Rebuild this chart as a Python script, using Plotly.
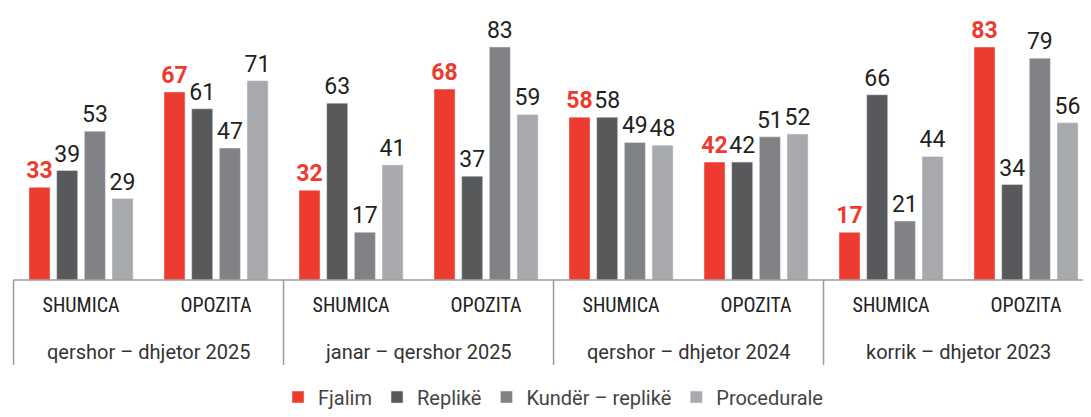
import plotly.graph_objects as go

periods = ["qershor – dhjetor 2025", "janar – qershor 2025", "qershor – dhjetor 2024", "korrik – dhjetor 2023"]
groups = ["SHUMICA", "OPOZITA"]

series_names = ["Fjalim", "Replikë", "Kundër – replikë", "Procedurale"]
fjalim = [33, 67, 32, 68, 58, 42, 17, 83]
replike = [39, 61, 63, 37, 58, 42, 66, 34]
kunder = [53, 47, 17, 83, 49, 51, 21, 79]
procedurale = [29, 71, 41, 59, 48, 52, 44, 56]

colors = ["#EE3B2F", "#58595B", "#808285", "#A7A9AC"]

# unique category keys, shown as SHUMICA / OPOZITA
cats = [p + " | " + g for p in periods for g in groups]
sub_labels = groups * len(periods)

narrow = "Roboto Condensed, Liberation Sans Narrow, Roboto"

fig = go.Figure()
for name, vals, col in zip(series_names, [fjalim, replike, kunder, procedurale], colors):
    red = name == "Fjalim"
    fig.add_trace(go.Bar(
        x=cats, y=vals, name=name,
        marker_color=col,
        text=vals, textposition="outside", cliponaxis=False, constraintext="none",
        textfont=dict(size=23, color="#EE3B2F" if red else "#231F20",
                      family="Roboto", weight="bold" if red else "normal"),
    ))

line_col = "#9B9B9B"
# axis baseline + section dividers
fig.add_shape(type="line", xref="x", yref="paper", x0=-0.5, x1=7.6, y0=0, y1=0,
              line=dict(color=line_col, width=1.5))
for i in range(len(periods)):
    fig.add_shape(type="line", xref="x", yref="paper", x0=2 * i - 0.5, x1=2 * i - 0.5,
                  y0=0, y1=-0.3125, line=dict(color=line_col, width=1.5))
    fig.add_annotation(x=2 * i + 0.5, xref="x", y=-0.265, yref="paper", text=periods[i],
                       showarrow=False, font=dict(size=20, color="#333333", family="Roboto"),
                       xanchor="center", yanchor="middle")

# page body adds an 8px margin, so the figure is sized to fit inside the window
fig.update_layout(
    width=1075, height=401,
    barmode="group", bargap=0.18, bargroupgap=0.24,
    plot_bgcolor="white", paper_bgcolor="white",
    margin=dict(l=0, r=0, t=0, b=129, autoexpand=False),
    font=dict(family="Roboto", color="#333333"),
    showlegend=True,
    legend=dict(orientation="h", x=0.507, xanchor="center", y=-0.502, yanchor="bottom",
                font=dict(size=20, color="#444444", family="Roboto")),
)
fig.update_xaxes(
    type="category", range=[-0.541, 7.422], showline=False, showgrid=False,
    tickvals=cats, ticktext=sub_labels,
    ticks="outside", ticklen=7, tickcolor="rgba(0,0,0,0)",
    tickfont=dict(size=20, color="#222222", family=narrow),
)
fig.update_yaxes(range=[0, 96.9], visible=False)

fig.write_html("out.html")
